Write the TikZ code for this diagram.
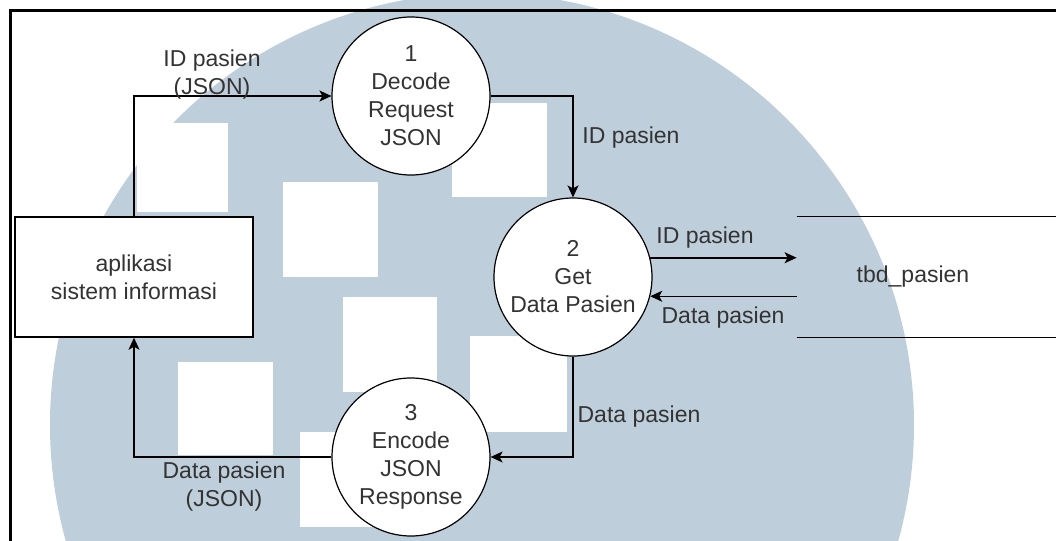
\documentclass[tikz,border=0pt]{standalone}
\usepackage{fontspec}
\setmainfont{Liberation Sans}
\usetikzlibrary{arrows.meta}
\definecolor{wmblue}{RGB}{191,206,219}
\definecolor{txtgray}{RGB}{51,51,51}
\newcommand{\dfdfont}{\fontsize{11.5}{14}\selectfont}
\tikzset{
    proc/.style={circle, draw, line width=0.6pt, fill=white, minimum size=79pt,
        inner sep=0pt, align=center, font=\dfdfont, text=txtgray},
    extbox/.style={draw, line width=0.75pt, fill=white, minimum width=119pt,
        minimum height=60pt, align=center, font=\dfdfont, text=txtgray},
    store/.style={minimum width=116pt, minimum height=60pt, font=\dfdfont, text=txtgray},
    flow/.style={draw, line width=0.75pt, -{Stealth[length=6pt, width=5.5pt, inset=1.5pt]}},
    lbl/.style={font=\dfdfont, text=txtgray, align=center, inner sep=0pt}
}
\begin{document}
\begin{tikzpicture}[x=0.5pt, y=-0.5pt]
        \useasboundingbox (0,0) rectangle (1056,541);
        % WATERMARK
        \begin{scope}
            \clip (0,0) rectangle (1056,541);
            \fill[wmblue] (482,425) circle (216pt);
            \foreach \xa/\ya/\xb/\yb in {137/123/228/212, 283/182/378/277, 452/103/547/197,
                343/297/437/392, 178/362/273/455, 300/432/395/527, 470/336/567/432} {
                \fill[white] (\xa,\ya) rectangle (\xb,\yb);
            }
            % Frame
            \draw[line width=1.5pt] (10,560) -- (10,10.5) -- (1070,10.5);
        \end{scope}
        % NODES
        \node[extbox] (app) at (134,277) {aplikasi\\sistem informasi};
        \node[proc] (p1) at (411,96) {1\\Decode\\Request\\JSON};
        \node[proc] (p2) at (573,277) {2\\Get\\Data Pasien};
        \node[proc] (p3) at (411,457) {3\\Encode\\JSON\\Response};
        \node[store] (db) at (913,277) {tbd\_pasien};
        \draw[line width=0.75pt] (db.north west) -- ++(300,0);
        \draw[line width=0.75pt] (db.south west) -- ++(300,0);
        % FLOWS
        \draw[flow] (app.north) |- (p1.west);
        \draw[flow] (p1.east) -| (p2.north);
        \draw[flow] (p2.14.5) -- (p2.14.5 -| db.west);
        \draw[flow] (p2.-14.5 -| db.west) -- (p2.-14.5);
        \draw[flow] (p2.south) |- (p3.east);
        \draw[flow] (p3.west) -| (app.south);
        % Flow labels
        \node[lbl] (l1) at (212,75) {ID pasien\\(JSON)};
        \node[lbl, anchor=west] (l2) at (582,138) {ID pasien};
        \node[lbl] (l3) at (705,238) {ID pasien};
        \node[lbl] (l4) at (723,318) {Data pasien};
        \node[lbl] (l5) at (639,417) {Data pasien};
        \node[lbl] (l6) at (224,487) {Data pasien\\(JSON)};
    \end{tikzpicture}
\end{document}
